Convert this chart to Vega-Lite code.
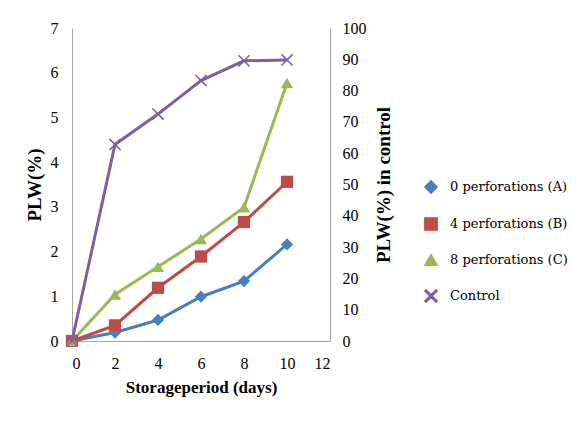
{
  "$schema": "https://vega.github.io/schema/vega-lite/v6.json",
  "autosize": {"type": "none"},
  "width": 258,
  "height": 313,
  "padding": {"left": 72, "top": 28, "right": 249, "bottom": 85},
  "background": "white",
  "config": {
    "font": "serif",
    "view": {"stroke": null},
    "axis": {"labelFont": "serif", "labelFontSize": 16, "labelColor": "#000", "titleFont": "Liberation Serif", "titleFontSize": 17, "titleFontWeight": "bold", "titleColor": "#000", "domainColor": "#a6a6a6", "grid": false, "ticks": false},
    "legend": {"labelFont": "DejaVu Serif", "labelFontSize": 13, "labelColor": "#000"}
  },
  "data": {"values": [
    {"day": 0, "series": "0 perforations (A)", "value": 0},
    {"day": 2, "series": "0 perforations (A)", "value": 0.19},
    {"day": 4, "series": "0 perforations (A)", "value": 0.47},
    {"day": 6, "series": "0 perforations (A)", "value": 0.99},
    {"day": 8, "series": "0 perforations (A)", "value": 1.34},
    {"day": 10, "series": "0 perforations (A)", "value": 2.16},
    {"day": 0, "series": "4 perforations (B)", "value": 0},
    {"day": 2, "series": "4 perforations (B)", "value": 0.35},
    {"day": 4, "series": "4 perforations (B)", "value": 1.19},
    {"day": 6, "series": "4 perforations (B)", "value": 1.89},
    {"day": 8, "series": "4 perforations (B)", "value": 2.66},
    {"day": 10, "series": "4 perforations (B)", "value": 3.56},
    {"day": 0, "series": "8 perforations (C)", "value": 0},
    {"day": 2, "series": "8 perforations (C)", "value": 1.04},
    {"day": 4, "series": "8 perforations (C)", "value": 1.66},
    {"day": 6, "series": "8 perforations (C)", "value": 2.28},
    {"day": 8, "series": "8 perforations (C)", "value": 2.99},
    {"day": 10, "series": "8 perforations (C)", "value": 5.77},
    {"day": 0, "series": "Control", "value": 0},
    {"day": 2, "series": "Control", "value": 62.8},
    {"day": 4, "series": "Control", "value": 72.5},
    {"day": 6, "series": "Control", "value": 83.2},
    {"day": 8, "series": "Control", "value": 89.5},
    {"day": 10, "series": "Control", "value": 89.8}
  ]},
  "encoding": {
    "x": {"field": "day", "type": "quantitative", "scale": {"domain": [0, 12], "nice": false}, "axis": {"values": [0, 2, 4, 6, 8, 10, 12], "title": "Storageperiod (days)", "labelPadding": 14, "titlePadding": 8}},
    "color": {"field": "series", "type": "nominal", "scale": {"domain": ["0 perforations (A)", "4 perforations (B)", "8 perforations (C)", "Control"], "range": ["#4a7ebb", "#be4b48", "#98b954", "#7d60a0"]}, "legend": {"title": null, "orient": "none", "legendX": 352, "legendY": 152, "rowPadding": 17, "symbolSize": 150, "labelOffset": 12}},
    "shape": {"field": "series", "type": "nominal", "scale": {"domain": ["0 perforations (A)", "4 perforations (B)", "8 perforations (C)", "Control"], "range": ["diamond", "square", "triangle-up", "M-1,-0.82L-0.82,-1L0,-0.18L0.82,-1L1,-0.82L0.18,0L1,0.82L0.82,1L0,0.18L-0.82,1L-1,0.82L-0.18,0Z"]}, "legend": {"title": null}}
  },
  "layer": [
    {
      "transform": [{"filter": "datum.series != 'Control'"}],
      "encoding": {
        "y": {"field": "value", "type": "quantitative", "scale": {"domain": [0, 7], "nice": false}, "axis": {"values": [0, 1, 2, 3, 4, 5, 6, 7], "title": "PLW(%)", "titleFontSize": 19, "labelPadding": 14, "titlePadding": 6}}
      },
      "layer": [
        {"mark": {"type": "line", "strokeWidth": 3}},
        {"mark": {"type": "point", "filled": true, "opacity": 1, "size": 150}}
      ]
    },
    {
      "transform": [{"filter": "datum.series == 'Control'"}],
      "encoding": {
        "y": {"field": "value", "type": "quantitative", "scale": {"domain": [0, 100], "nice": false}, "axis": {"orient": "right", "values": [0, 10, 20, 30, 40, 50, 60, 70, 80, 90, 100], "title": "PLW(%) in control", "titleAngle": 270, "titleFontSize": 19, "labelPadding": 12, "titlePadding": 27}}
      },
      "layer": [
        {"mark": {"type": "line", "strokeWidth": 3}},
        {"mark": {"type": "point", "filled": true, "opacity": 1, "size": 150}}
      ]
    }
  ],
  "resolve": {"scale": {"y": "independent"}}
}
